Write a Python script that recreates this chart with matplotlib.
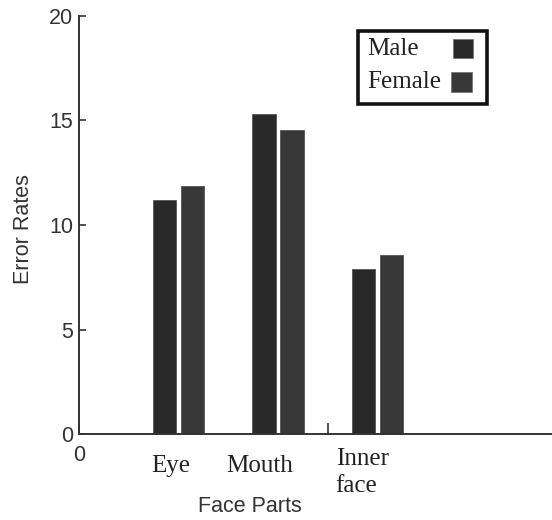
import numpy as np
from matplotlib import pyplot as plt
from matplotlib.patches import Rectangle
from matplotlib.transforms import blended_transform_factory, Affine2D

# values
parts = ["Eye", "Mouth", "Inner\nface"]
male = [11.2, 15.3, 7.9]
female = [11.85, 14.55, 8.55]
yticks = [0, 5, 10, 15, 20]

male_color = "#2a292a"
female_color = "#383838"
serif = "Liberation Serif"
sans = "Liberation Sans"

W, H = 552, 520
fig = plt.figure(figsize=(W / 100, H / 100), dpi=100)
# axes placed in pixel terms of the reference
x0, y0, x1, y1 = 79, 434, 552, 16
ax = fig.add_axes([x0 / W, (H - y0) / H, (x1 - x0) / W, (y0 - y1) / H])

pos = np.arange(1, len(parts) + 1)
bw = 0.235
ax.bar(pos - 0.14, male, bw, color=male_color, edgecolor="#555555", linewidth=0.6, label="Male")
ax.bar(pos + 0.14, female, bw, color=female_color, edgecolor="#555555", linewidth=0.6, label="Female")

ax.set_xlim(0, (x1 - x0) / 99.5)
ax.set_ylim(0, 20)

for s in ["top", "right"]:
    ax.spines[s].set_visible(False)
for s in ["left", "bottom"]:
    ax.spines[s].set_color("#333333")
    ax.spines[s].set_linewidth(1.4)

ax.set_yticks(yticks)
ax.tick_params(axis="y", direction="in", length=5, width=1.2, color="#333333",
               labelsize=15.5, labelcolor="#333333", pad=4)
for t in ax.get_yticklabels():
    t.set_fontfamily(sans)

ax.set_xticks([0, 2.5])
ax.set_xticklabels(["0", ""])
ax.tick_params(axis="x", direction="in", length=8, width=1.2, color="#333333",
               labelsize=15.5, labelcolor="#333333", pad=8)
for t in ax.get_xticklabels():
    t.set_fontfamily(sans)

# category names in serif, placed like the reference
tr = blended_transform_factory(ax.transData, ax.transAxes)
def ay(py):
    return (y0 - py) / (y0 - y1)
ax.text(0.925, ay(455), parts[0], transform=tr, ha="center", va="top",
        fontsize=18, family=serif, color="#222222")
ax.text(1.814, ay(455), parts[1], transform=tr, ha="center", va="top",
        fontsize=18, family=serif, color="#222222")
ax.text(2.58, ay(448), parts[2], transform=tr, ha="left", va="top",
        fontsize=18, family=serif, color="#222222", linespacing=1.3)

fig.text(250 / W, 1 - 506 / H, "Face Parts", ha="center", va="center",
         fontsize=15.5, family=sans, color="#333333")
fig.text(24 / W, 1 - 229 / H, "Error Rates", ha="center", va="center",
         rotation=90, fontsize=15.5, family=sans, color="#333333")

# legend box drawn in reference pixel coordinates (y measured from the top)
px = Affine2D().scale(1 / W, -1 / H).translate(0, 1) + fig.transFigure
fig.patches.append(Rectangle((358, 31), 129, 73, transform=px, fill=False,
                             edgecolor="#111111", linewidth=2.6))
fig.patches.append(Rectangle((453, 39), 20, 19, transform=px,
                             facecolor=male_color, edgecolor="#777777", linewidth=0.6))
fig.patches.append(Rectangle((451, 72), 21, 20, transform=px,
                             facecolor=female_color, edgecolor="#777777", linewidth=0.6))
fig.text(367, 49, "Male", transform=px, ha="left", va="center",
         fontsize=18, family=serif, color="#222222")
fig.text(367, 82, "Female", transform=px, ha="left", va="center",
         fontsize=18, family=serif, color="#222222")

fig.savefig("out.png", dpi=100)
